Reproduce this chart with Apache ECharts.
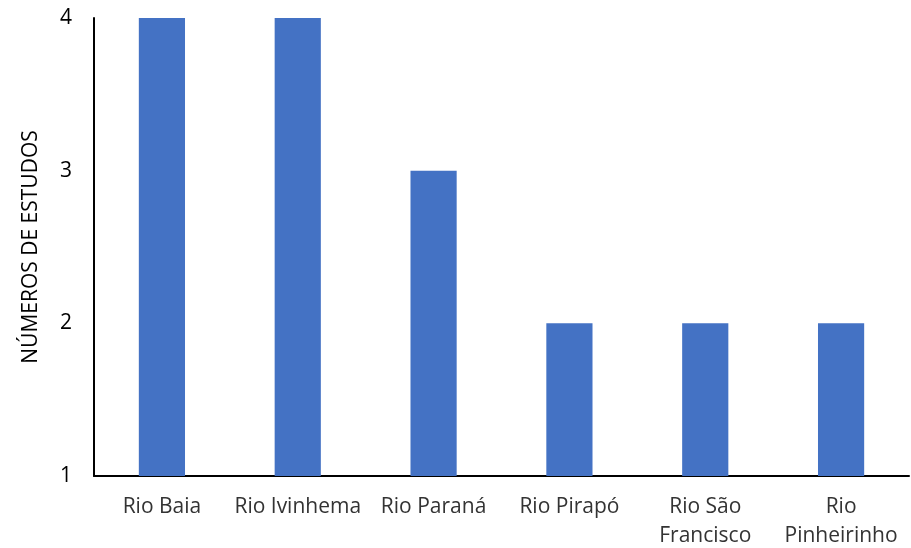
<!DOCTYPE html>
<html>
<head>
<meta charset="utf-8">
<script src="https://cdn.jsdelivr.net/npm/echarts@6/dist/echarts.min.js"></script>
<style>
  html, body { margin: 0; padding: 0; background: #fff; }
  #chart { width: 911px; height: 548px; }
</style>
</head>
<body>
<div id="chart"></div>
<script>
// Rivers and number of studies per river
const categories = ['Rio Baia', 'Rio Ivinhema', 'Rio Paraná', 'Rio Pirapó', 'Rio São\nFrancisco', 'Rio\nPinheirinho'];
const studies = [4, 4, 3, 2, 2, 2];
const yTicks = [1, 2, 3, 4];

const font = '"Open Sans", "Liberation Sans", sans-serif';
const chart = echarts.init(document.getElementById('chart'));
chart.setOption({
  animation: false,
  grid: { left: 94, right: 2, top: 18, bottom: 72, containLabel: false, outerBoundsMode: 'none' },
  xAxis: {
    type: 'category',
    data: categories,
    axisLine: { lineStyle: { color: '#000', width: 2 } },
    axisTick: { show: false },
    axisLabel: { color: '#333', fontFamily: font, fontSize: 21, lineHeight: 29, margin: 17, interval: 0 }
  },
  yAxis: {
    type: 'value',
    min: yTicks[0],
    max: yTicks[yTicks.length - 1],
    interval: 1,
    name: 'NÚMEROS DE ESTUDOS',
    nameLocation: 'middle',
    nameGap: 52,
    nameRotate: 90,
    nameTextStyle: { color: '#000', fontFamily: font, fontSize: 21 },
    axisLine: { show: true, lineStyle: { color: '#000', width: 2 } },
    axisTick: { show: false },
    splitLine: { show: false },
    axisLabel: { color: '#000', fontFamily: font, fontSize: 21, margin: 22 }
  },
  series: [{
    type: 'bar',
    data: studies,
    barWidth: '34%',
    itemStyle: { color: '#4472C4' }
  }]
});
</script>
</body>
</html>
